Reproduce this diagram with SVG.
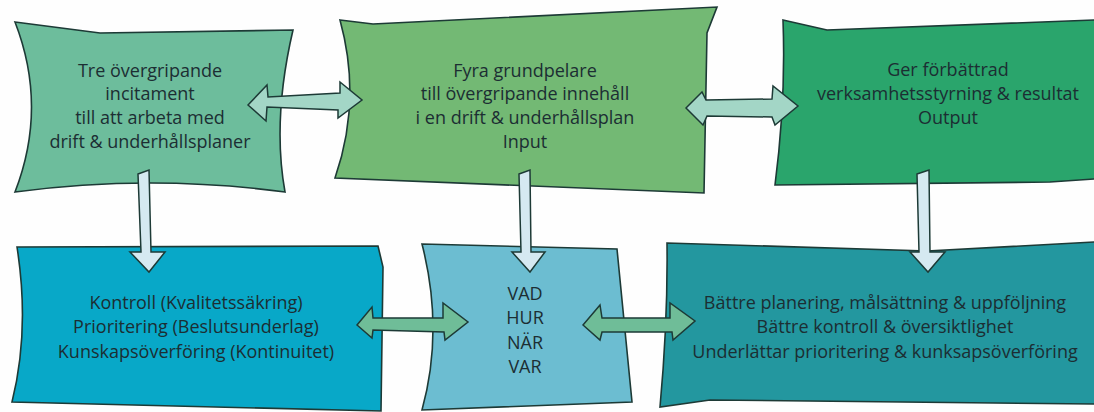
<svg xmlns="http://www.w3.org/2000/svg" width="1094" height="412" viewBox="0 0 1094 412">
  <style>
    .box { stroke: #1d3a36; stroke-width: 1.6; stroke-linejoin: miter; }
    .lbl { font-family: "Open Sans", "Noto Sans", "Liberation Sans", sans-serif; font-size: 18px; fill: #1c2e33; text-anchor: middle; }
    .arr { stroke: #1d3a36; stroke-width: 1.5; stroke-linejoin: miter; }
    .arr-top { fill: #a3d6c6; }
    .arr-bot { fill: #6fbd98; }
    .arr-down { fill: #d5e9f1; }
  </style>
  <rect width="1094" height="412" fill="#fefefe"/>

  <g id="node-incitament">
    <path class="box" fill="#6dbd9c" d="M15,22 L100,33 L293,30 Q272,120 285,192 Q150,174 15,192 Q48,107 15,22 Z"/>
    <text class="lbl" x="150"><tspan x="150" y="77">Tre övergripande</tspan><tspan x="150" y="100">incitament</tspan><tspan x="150" y="124">till att arbeta med</tspan><tspan x="150" y="148">drift &amp; underhållsplaner</tspan></text>
  </g>

  <g id="node-grundpelare">
    <path class="box" fill="#73b974" d="M340,20 L373,24 L717,7 L707,33 L704,193 L335,178 Q362,100 340,20 Z"/>
    <text class="lbl" x="525"><tspan x="525" y="77">Fyra grundpelare</tspan><tspan x="525" y="100">till övergripande innehåll</tspan><tspan x="525" y="124">i en drift &amp; underhållsplan</tspan><tspan x="525" y="148">Input</tspan></text>
  </g>

  <g id="node-output">
    <path class="box" fill="#2aa56c" d="M783,20 L827,30 L1095,20 L1095,179 L1050,182 L775,185 Q786,100 783,20 Z"/>
    <text class="lbl" x="948"><tspan x="948" y="76">Ger förbättrad</tspan><tspan x="948" y="100">verksamhetsstyrning &amp; resultat</tspan><tspan x="948" y="124">Output</tspan></text>
  </g>

  <g id="node-kontroll">
    <path class="box" fill="#08a8c8" d="M17,247 L378,246 L383,267 L381,411 L12,402 Q30,330 17,247 Z"/>
    <text class="lbl" x="196"><tspan x="196" y="309">Kontroll (Kvalitetssäkring)</tspan><tspan x="196" y="333">Prioritering (Beslutsunderlag)</tspan><tspan x="196" y="358">Kunskapsöverföring (Kontinuitet)</tspan></text>
  </g>

  <g id="node-vad">
    <path class="box" fill="#6cbdd1" d="M422,244 L617,249 L632,402 L422,410 Q444,330 422,244 Z"/>
    <text class="lbl" x="525"><tspan x="525" y="300">VAD</tspan><tspan x="525" y="324">HUR</tspan><tspan x="525" y="349">NÄR</tspan><tspan x="525" y="373">VAR</tspan></text>
  </g>

  <g id="node-battre">
    <path class="box" fill="#23979f" d="M667,243 L927,251 L1095,242 L1095,404 L710,400 L660,407 Q668,320 667,243 Z"/>
    <text class="lbl" x="885"><tspan x="885" y="309">Bättre planering, målsättning &amp; uppföljning</tspan><tspan x="885" y="333">Bättre kontroll &amp; översiktlighet</tspan><tspan x="885" y="358">Underlättar prioritering &amp; kunksapsöverföring</tspan></text>
  </g>

  <g id="connectors">
    <polygon class="arr arr-top" points="248,105 267,85 268,97 340,93 340,82 362,100 338,118 338,110 267,107 266,121"/>
    <polygon class="arr arr-top" points="686,108 702,92 706,100 772,99 773,86 798,106 775,125 772,117 707,116 703,125"/>
    <polygon class="arr arr-down" points="138,174 149,170 151,252 165,252 149,272 130,252 141,252"/>
    <polygon class="arr arr-down" points="519,174 530,170 531,252 545,252 530,272 512,252 521,252"/>
    <polygon class="arr arr-down" points="917,174 929,170 930,252 945,252 928,272 910,252 919,252"/>
    <polygon class="arr arr-bot" points="357,325 372,307 373,318 443,318 443,303 468,322 445,340 444,332 373,330 372,338"/>
    <polygon class="arr arr-bot" points="583,325 600,305 602,318 670,318 670,303 695,321 673,340 672,332 602,332 600,340"/>
  </g>
</svg>
